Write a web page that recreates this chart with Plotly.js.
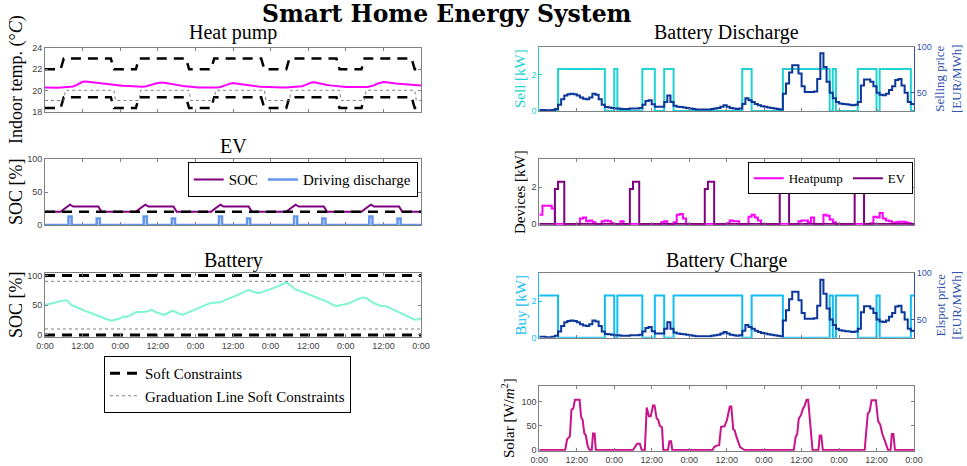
<!DOCTYPE html>
<html><head><meta charset="utf-8">
<script src="https://cdn.plot.ly/plotly-3.0.1.min.js"></script>
<style>html,body{margin:0;padding:0;background:#fff;}#chart{width:967px;height:466px;}</style>
</head><body><div id="chart"></div>
<script>
// ---------------- DATA ----------------
const hours = []; for (let h = 0; h <= 120; h++) hours.push(h);
const spanHours = [0, 120];
const dayTickVals = [0, 12, 24, 36, 48, 60, 72, 84, 96, 108, 120];
const dayTickText = ['0:00','12:00','0:00','12:00','0:00','12:00','0:00','12:00','0:00','12:00','0:00'];

// Heat pump: indoor temperature (°C), hourly
const indoorTemp = [
 20.3,20.28,20.27,20.27,20.28,20.3,20.32,20.33,20.35,20.4,20.52,20.7,20.83,20.87,20.83,20.78,20.74,20.75,20.7,20.65,20.61,20.58,20.55,20.52,
 20.49,20.46,20.44,20.42,20.4,20.39,20.38,20.38,20.4,20.45,20.55,20.66,20.74,20.77,20.74,20.68,20.64,20.6,20.56,20.5,20.45,20.41,20.38,20.35,
 20.33,20.31,20.3,20.29,20.29,20.29,20.3,20.31,20.35,20.42,20.55,20.66,20.72,20.68,20.63,20.58,20.54,20.5,20.46,20.43,20.4,20.38,20.36,20.34,
 20.33,20.32,20.31,20.31,20.31,20.31,20.32,20.33,20.35,20.38,20.43,20.52,20.64,20.76,20.8,20.72,20.64,20.58,20.54,20.5,20.46,20.42,20.39,20.37,
 20.35,20.34,20.33,20.33,20.33,20.33,20.34,20.36,20.4,20.5,20.65,20.77,20.82,20.8,20.74,20.7,20.68,20.66,20.64,20.62,20.6,20.56,20.53,20.5,
 20.48];
// Heat pump comfort constraints (breakpoints)
const softHours = [0,5,6,21,22,29,30,45,46,53,54,69,70,77,78,93,94,101,102,117,118,120];
const softUpper = [22,22,23,23,22,22,23,23,22,22,23,23,22,22,23,23,22,22,23,23,22,22];
const softLower = [18.4,18.4,19.4,19.4,18.4,18.4,19.4,19.4,18.4,18.4,19.4,19.4,18.4,18.4,19.4,19.4,18.4,18.4,19.4,19.4,18.4,18.4];
const gradHours = [0,6,6.5,22,22.5,30,30.5,46,46.5,54,54.5,70,70.5,78,78.5,94,94.5,102,102.5,118,118.5,120];
const gradLower = [19.1,19.1,20.05,20.05,19.1,19.1,20.05,20.05,19.1,19.1,20.05,20.05,19.1,19.1,20.05,20.05,19.1,19.1,20.05,20.05,19.1,19.1];

// EV
const evSoc = [
 20,20,20,20,20,20,24,28,31,28,28,28,28,28,28,28,28,28,20,20,20,20,20,20,
 20,20,20,20,20,20,24,28,31,28,28,28,28,28,28,28,28,28,20,20,20,20,20,20,
 20,20,20,20,20,20,24,28,31,28,28,28,28,28,28,28,28,28,20,20,20,20,20,20,
 20,20,20,20,20,20,24,28,31,28,28,28,28,28,28,28,28,28,20,20,20,20,20,20,
 20,20,20,20,20,20,24,28,31,28,28,28,28,28,28,28,28,28,20,20,20,20,20,20,
 20];
const driveDischarge = [
 0,0,0,0,0,0,0,0,13,0,0,0,0,0,0,0,0,10,0,0,0,0,0,0,
 0,0,0,0,0,0,0,0,13,0,0,0,0,0,0,0,0,10,0,0,0,0,0,0,
 0,0,0,0,0,0,0,0,13,0,0,0,0,0,0,0,0,10,0,0,0,0,0,0,
 0,0,0,0,0,0,0,0,13,0,0,0,0,0,0,0,0,10,0,0,0,0,0,0,
 0,0,0,0,0,0,0,0,13,0,0,0,0,0,0,0,0,10,0,0,0,0,0,0,
 0];
const evSoftLimit = [20, 20];

// Battery SOC (%)
const batterySoc = [
 50,51.5,53,54,55.5,57,58,58,52,49,46.5,44.5,42.5,40,38,36,34,32,29.5,27.5,25.5,24,25,26.5,
 28,31,30.5,32.5,35,38,38.5,38.5,39,40,42,39,37,35,33.5,36,39,40.5,37.5,35,34,36,38,40,
 42.5,45,47.5,50,52.5,54,54,54,55,57.5,60,62,64,66,68,70.5,73,75.5,74,71.5,70,71.5,73,75,
 77,79,81,83.5,85.5,88,85,80,76,74.5,72.5,70.5,68.5,66.5,64.5,62.5,60.5,58.5,56,53,50,48.5,49.5,51,
 51,53,55.5,57.5,60,62.5,62.5,60.5,56.5,53,51,49,48.5,48,45.5,43,40.5,38,35,32.5,30,27.5,25.5,26,
 28];
const batSoftLow = [0, 0], batSoftHigh = [100, 100];
const batGradLow = [10, 10], batGradHigh = [90, 90];

// Elspot / selling price (EUR/MWh), hourly
const price = [
 31.5,31.5,31,31,31.5,32.5,37,43,47,48.5,49,48.5,47,45,43.5,43,45,49,48,43,37,34.5,34,33.5,
 33,33,32.5,32.5,32.5,33,33,33,33.5,37,41,42,37.5,35,35,35,40,47,40,36,35,34.5,34,33.5,
 33,32.5,32,32,32,32,32,32.5,33,33.5,35,36.5,35,33.5,33,32.5,33,38,44,42,40,38,36.5,35.5,
 35,34,33.5,33,32.5,32,49,60,72,80,80,71,57,51,51,51,51.5,65,93,78,62,50,44,40,38.5,38,
 37.5,37,36.5,37,40,58,64.5,64.5,62,57,50,48,47.5,49,53,57,64,65,58,50,40,38,36.5,
 36.5];
// Battery discharge (sell) and charge (buy), kW
const sellPower = [
 0,0,0,0,0,0,2.3,2.3,2.3,2.3,2.3,2.3,2.3,2.3,2.3,2.3,2.3,2.3,2.3,2.3,2.3,0,0,0,
 2.3,0,0,0,0,0,0,0,0,2.3,2.3,2.3,2.3,0,0,0,2.3,2.3,2.3,0,0,0,0,0,
 0,0,0,0,0,0,0,0,0,0,0,0,0,0,0,0,0,2.3,2.3,2.3,0,0,0,0,
 0,0,0,0,0,0,2.3,2.3,2.3,2.3,2.3,2.3,2.3,2.3,2.3,2.3,2.3,2.3,2.3,2.3,2.3,0,2.3,0,
 0,0,0,0,0,0,2.3,2.3,2.3,2.3,2.3,2.3,0,2.3,2.3,2.3,2.3,2.3,2.3,2.3,2.3,2.3,2.3,0,
 0];
const buyPower = [
 2.3,2.3,2.3,2.3,2.3,2.3,0,0,0,0,0,0,0,0,0,0,0,0,0,0,0,2.3,2.3,2.3,
 0,2.3,2.3,2.3,2.3,2.3,2.3,2.3,2.3,0,0,0,0,2.3,2.3,2.3,0,0,0,2.3,2.3,2.3,2.3,2.3,
 2.3,2.3,2.3,2.3,2.3,2.3,2.3,2.3,2.3,2.3,2.3,2.3,2.3,2.3,2.3,2.3,2.3,0,0,0,2.3,2.3,2.3,2.3,
 2.3,2.3,2.3,2.3,2.3,2.3,0,0,0,0,0,0,0,0,0,0,0,0,0,0,0,2.3,0,2.3,
 2.3,2.3,2.3,2.3,2.3,2.3,0,0,0,0,0,0,2.3,0,0,0,0,0,0,0,0,0,0,2.3,
 2.3];
// Devices (kW)
const hpPower = [
 0.5,1.0,1.0,1.0,0.85,0,0,0,0,0,0,0,0,0.3,0.35,0.15,0.2,0.1,0,0,0.15,0.2,0.15,0.05,
 0,0,0.15,0,0,0,0,0,0,0,0,0,0,0,0,0.1,0.15,0,0,0.1,0.5,0.55,0.3,0,
 0,0,0,0,0,0,0,0,0,0,0,0,0.05,0.2,0.15,0.15,0,0,0,0.4,0.5,0.35,0.2,0,
 0,0,0,0,0,0,0,0,0,0,0,0.15,0.2,0.2,0.1,0.35,0,0,0,0.5,0.45,0.25,0.1,0,
 0,0,0,0,0,0,0,0,0,0,0.05,0.4,0.35,0.6,0.3,0.2,0.15,0.05,0.1,0.12,0.12,0.1,0.05,0,
 0];
const evPower = [
 0,0,0,0,0,1.9,2.3,2.3,0,0,0,0,0,0,0,0,0,0,0,0,0,0,0,0,
 0,0,0,0,0,1.9,2.3,2.3,0,0,0,0,0,0,0,0,0,0,0,0,0,0,0,0,
 0,0,0,0,0,1.9,2.3,2.3,0,0,0,0,0,0,0,0,0,0,0,0,0,0,0,0,
 0,0,0,0,0,1.9,2.3,2.3,0,0,0,0,0,0,0,0,0,0,0,0,0,0,0,0,
 0,0,0,0,0,1.9,2.3,2.3,0,0,0,0,0,0,0,0,0,0,0,0,0,0,0,0,
 0];
// Solar irradiance (W/m^2), breakpoints
const solarHours = [0,8.3,8.9,9.8,10.3,10.9,11.4,12.9,13.4,13.9,14.4,14.9,15.5,16.1,16.8,17.2,17.7,18.1,
 30,30.5,31.3,32.2,32.8,33.8,34.4,35.1,35.7,36.4,36.9,37.6,38.1,38.6,39.3,39.7,41.2,41.7,42.2,42.6,
 55.5,56,56.8,57.6,58.2,59.3,60.1,61,61.5,62.1,62.6,63.1,63.8,64.3,65,65.7,
 81.5,82.1,82.6,83.1,83.8,84.4,85,85.6,86.1,86.5,87,87.5,89.4,89.8,90.3,90.8,
 104.2,104.7,105.2,105.8,106.4,107.8,108.5,109.2,109.9,110.5,111.2,111.7,112.5,112.9,113.4,113.9,120];
const solarValues = [0,0,22,28,83,86,104,104,68,62,35,30,8,0,0,34,34,0,
 0,6,13,13,0,0,88,70,70,92,92,65,62,50,47,0,0,18,18,0,
 0,6,9,10,48,49,62,90,90,43,40,28,16,6,3,0,
 0,27,33,65,72,85,92,104,104,70,46,0,0,30,30,0,
 0,35,75,80,103,103,60,52,32,22,10,0,0,33,33,0,0];

// ---------------- STYLE / LAYOUT ----------------
const W = 967, H = 466;
const px = x => x / W, py = y => 1 - y / H;
const serif = 'Liberation Serif';
const sans = 'Liberation Sans';
const axisGray = '#808080';
const tickFont = {family: sans, size: 9, color: '#404040'};
const cSell = '#1fd3d3', cBuy = '#12bdf4', cPrice = '#0b369a', cPriceAxis = '#2f52ad';
const cHP = '#ff00ff', cEV = '#800080', cDrive = '#6495ed', cBat = '#7ef5d2', cSolar = '#c8138a';
const dashStyle = '10px,7px';

function xAxis(L, R, anchor, labels) {
  return {domain: [px(L), px(R)], anchor: anchor, range: [0, 120], tickvals: dayTickVals, ticktext: dayTickText,
    showticklabels: labels, ticks: 'inside', ticklen: 3, tickcolor: axisGray, showline: true, linecolor: axisGray,
    linewidth: 1, mirror: 'ticks', showgrid: false, zeroline: false, tickfont: tickFont, fixedrange: true};
}
function yAxis(T, B, anchor, range, vals, extra) {
  return Object.assign({domain: [py(B), py(T)], anchor: anchor, range: range, tickvals: vals, ticks: 'inside', ticklen: 3,
    tickcolor: axisGray, showline: true, linecolor: axisGray, linewidth: 1, mirror: 'ticks', showgrid: false,
    zeroline: false, tickfont: tickFont, fixedrange: true}, extra || {});
}
const LX0 = 45, LX1 = 421, RX0 = 539.3, RX1 = 914;
const legendBase = {orientation: 'h', bgcolor: '#fff', bordercolor: '#000', borderwidth: 1, yanchor: 'top'};

const layout = {
  width: W, height: H, margin: {l: 0, r: 0, t: 0, b: 0}, paper_bgcolor: '#fff', plot_bgcolor: '#fff',
  font: {family: serif, color: '#000'},
  showlegend: true,
  xaxis:  xAxis(LX0, LX1, 'y', false),
  yaxis:  yAxis(47.7, 112.3, 'x', [18, 24], [18, 20, 22, 24]),
  xaxis2: xAxis(LX0, LX1, 'y2', false),
  yaxis2: yAxis(159.3, 225, 'x2', [0, 100], [0, 50, 100]),
  xaxis3: xAxis(LX0, LX1, 'y3', true),
  yaxis3: yAxis(273.3, 337.3, 'x3', [-4, 103.5], [0, 50, 100]),
  xaxis4: Object.assign(xAxis(RX0, RX1, 'y4', false), {mirror: true}),
  yaxis4: yAxis(46.7, 110.9, 'x4', [0, 3.52], [0, 2], {mirror: false, linecolor: cSell, tickcolor: cSell, tickfont: {family: sans, size: 9, color: cSell}}),
  yaxis5: yAxis(46.7, 110.9, 'x4', [30.4, 100], [50, 100], {overlaying: 'y4', side: 'right', mirror: false, linecolor: cPriceAxis, tickcolor: cPriceAxis, tickfont: {family: sans, size: 9, color: cPriceAxis}}),
  xaxis5: xAxis(RX0, RX1, 'y6', false),
  yaxis6: yAxis(159.3, 224.8, 'x5', [-0.04, 3.52], [0, 2]),
  xaxis6: Object.assign(xAxis(RX0, RX1, 'y7', false), {mirror: true}),
  yaxis7: yAxis(273.3, 337.7, 'x6', [0, 3.52], [0, 2], {mirror: false, linecolor: cBuy, tickcolor: cBuy, tickfont: {family: sans, size: 9, color: cBuy}}),
  yaxis8: yAxis(273.3, 337.7, 'x6', [30.4, 100], [50, 100], {overlaying: 'y7', side: 'right', mirror: false, linecolor: cPriceAxis, tickcolor: cPriceAxis, tickfont: {family: sans, size: 9, color: cPriceAxis}}),
  xaxis7: xAxis(RX0, RX1, 'y9', true),
  yaxis9: yAxis(385.7, 450.7, 'x7', [-1.5, 133], [0, 50, 100]),
  legend: Object.assign({}, legendBase, {x: px(417.7), xanchor: 'right', y: py(162.3),
    font: {family: serif, size: 15, color: '#000'}}),
  legend2: Object.assign({}, legendBase, {x: px(912.7), xanchor: 'right', y: py(162.3),
    font: {family: serif, size: 13, color: '#000'}}),
  legend3: Object.assign({}, legendBase, {orientation: 'v', x: px(104), xanchor: 'left', y: py(356), tracegroupgap: 0,
    font: {family: serif, size: 15, color: '#000'}}),
  annotations: []
};

function ann(text, x, y, size, extra) {
  return Object.assign({text: text, xref: 'paper', yref: 'paper', x: px(x), y: py(y), xanchor: 'center', yanchor: 'middle',
    showarrow: false, font: {family: serif, size: size, color: '#000'}}, extra || {});
}
layout.annotations.push(
  ann('<b>Smart Home Energy System</b>', 446.5, 14, 23.5, {font: {family: 'DejaVu Serif', size: 23.5, color: '#000'}}),
  ann('Heat pump', 233, 32, 20),
  ann('EV', 233, 145.5, 20),
  ann('Battery', 233, 260.5, 20),
  ann('Battery Discharge', 726.5, 33, 20),
  ann('Battery Charge', 726.5, 260, 20),
  ann('Indoor temp. (°<i>C</i>)', 16, 80, 18, {textangle: -90}),
  ann('SOC [%]', 16, 192, 18, {textangle: -90}),
  ann('SOC [%]', 16, 305, 18, {textangle: -90}),
  ann('Sell [kW]', 520, 79, 15, {textangle: -90, font: {family: serif, size: 15, color: cSell}}),
  ann('Selling price<br>[EUR/MWh]', 948, 79, 13, {textangle: -90, font: {family: serif, size: 13, color: cPriceAxis}}),
  ann('Devices [kW]', 520, 192, 15, {textangle: -90}),
  ann('Buy [kW]', 520, 305.5, 15, {textangle: -90, font: {family: serif, size: 15, color: cBuy}}),
  ann('Elspot price<br>[EUR/MWh]', 948, 305.5, 13, {textangle: -90, font: {family: serif, size: 13, color: cPriceAxis}}),
  ann('Solar [W/<i>m</i><sup>2</sup>]', 508, 418, 15, {textangle: -90})
);

// ---------------- TRACES ----------------
const L = (x, y, xa, ya, line, extra) => Object.assign({type: 'scatter', mode: 'lines', x: x, y: y, xaxis: xa, yaxis: ya,
  line: line, showlegend: false, hoverinfo: 'skip'}, extra || {});
const traces = [
  // heat pump
  L(softHours, softUpper, 'x', 'y', {color: '#000', width: 2.5, dash: dashStyle}),
  L(softHours, softLower, 'x', 'y', {color: '#000', width: 2.5, dash: dashStyle}),
  L(gradHours, gradLower, 'x', 'y', {color: '#7f7f7f', width: 1, dash: 'dot'}),
  L(hours, indoorTemp, 'x', 'y', {color: cHP, width: 2}),
  // EV
  L(hours, evSoc, 'x2', 'y2', {color: cEV, width: 2}, {name: 'SOC', showlegend: true, legend: 'legend'}),
  L(hours, driveDischarge, 'x2', 'y2', {color: cDrive, width: 2.5, shape: 'hvh'}, {name: 'Driving discharge', showlegend: true, legend: 'legend'}),
  L(spanHours, evSoftLimit, 'x2', 'y2', {color: '#000', width: 2.5, dash: dashStyle}),
  // Battery
  L(hours, batterySoc, 'x3', 'y3', {color: cBat, width: 2}),
  L(spanHours, batSoftLow, 'x3', 'y3', {color: '#000', width: 3, dash: dashStyle}, {name: 'Soft Constraints', showlegend: true, legend: 'legend3'}),
  L(spanHours, batSoftHigh, 'x3', 'y3', {color: '#000', width: 3, dash: dashStyle}),
  L(spanHours, batGradLow, 'x3', 'y3', {color: '#7f7f7f', width: 1, dash: 'dot'}, {name: 'Graduation Line Soft Constraints', showlegend: true, legend: 'legend3'}),
  L(spanHours, batGradHigh, 'x3', 'y3', {color: '#7f7f7f', width: 1, dash: 'dot'}),
  // Battery discharge
  L(hours, sellPower, 'x4', 'y4', {color: cSell, width: 2, shape: 'hv'}),
  L(hours, price, 'x4', 'y5', {color: cPrice, width: 2, shape: 'hv'}),
  // Devices
  L(hours, hpPower, 'x5', 'y6', {color: cHP, width: 2, shape: 'hv'}, {name: 'Heatpump', showlegend: true, legend: 'legend2'}),
  L(hours, evPower, 'x5', 'y6', {color: cEV, width: 2, shape: 'hv'}, {name: 'EV', showlegend: true, legend: 'legend2'}),
  // Battery charge
  L(hours, buyPower, 'x6', 'y7', {color: cBuy, width: 2, shape: 'hv'}),
  L(hours, price, 'x6', 'y8', {color: cPrice, width: 2, shape: 'hv'}),
  // Solar
  L(solarHours, solarValues, 'x7', 'y9', {color: cSolar, width: 2})
];

Plotly.newPlot('chart', traces, layout, {staticPlot: true, displayModeBar: false});
</script></body></html>
